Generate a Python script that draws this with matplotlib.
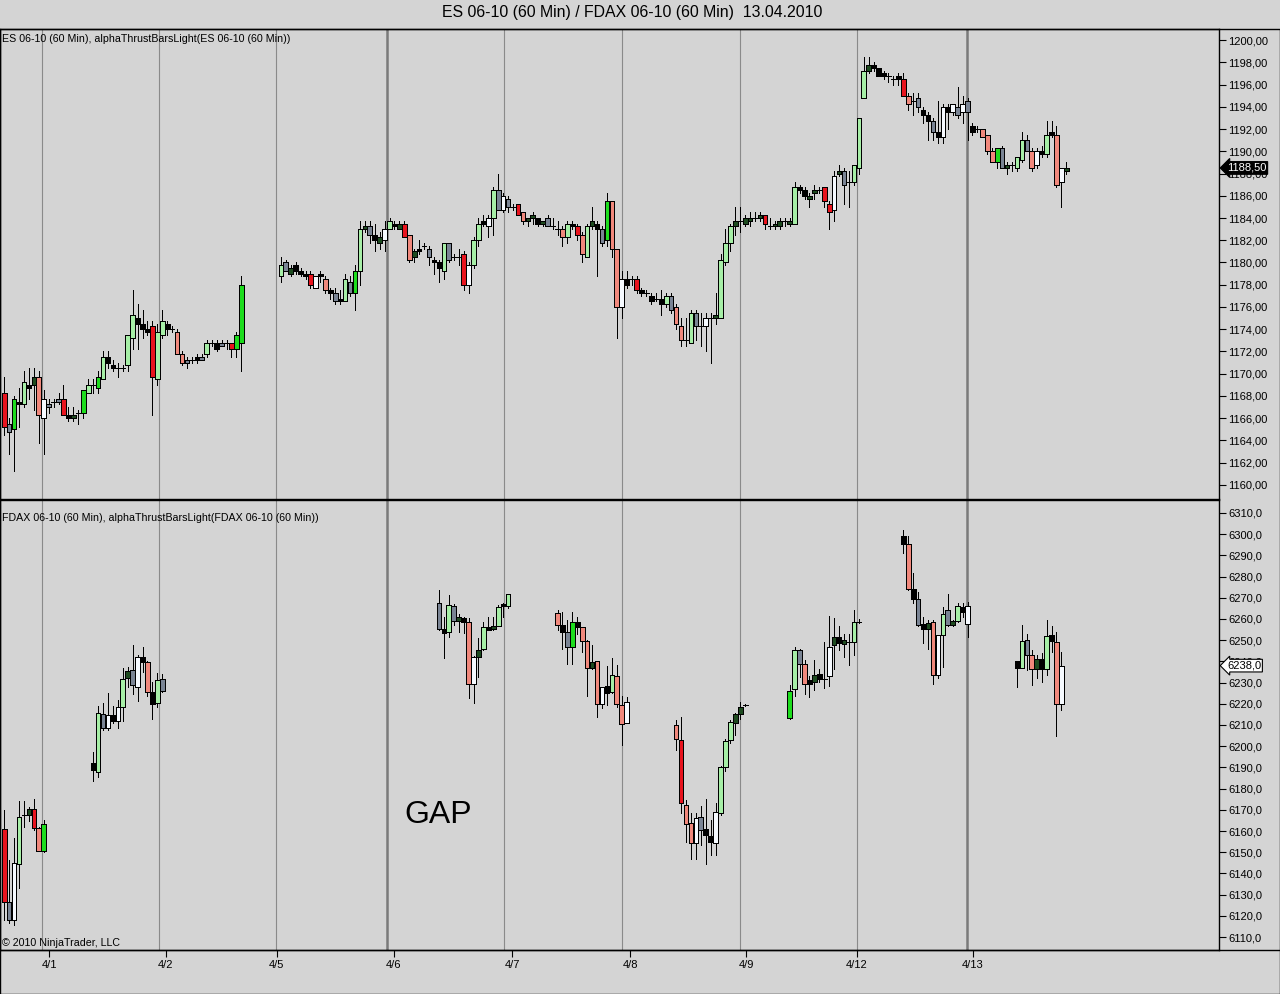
import matplotlib
matplotlib.use("Agg")
import matplotlib.pyplot as plt
import matplotlib.transforms as mtransforms
from matplotlib.patches import Rectangle
import numpy as np

plt.rcParams['font.family'] = ['Liberation Sans', 'DejaVu Sans']

# ---------------- data ----------------
# hourly bars on one shared time axis (bar slot numbers)
es_x = list(range(0, 49)) + list(range(56, 216))

es_open = [
    # 3/31 - 4/2
    1168.25, 1164.75, 1165.0, 1167.5, 1167.25, 1169.0, 1169.0, 1169.75, 1166.0, 1167.0,
    1167.5, 1167.5, 1167.75, 1166.25, 1166.0, 1166.5, 1166.5, 1168.25, 1169.0, 1168.75,
    1169.5, 1171.5, 1170.75, 1170.5, 1170.5, 1170.75, 1173.25, 1175.0, 1174.5, 1174.0,
    1174.25, 1169.5, 1173.5, 1174.5, 1174.0, 1173.75, 1171.75, 1171.0, 1171.25, 1171.5,
    1171.25, 1171.75, 1172.75, 1172.75, 1172.5, 1172.75, 1172.75, 1172.25, 1172.75,
    # 4/5 - 4/6
    1178.75, 1179.25, 1179.0, 1179.75, 1179.25, 1179.0, 1179.0, 1177.75, 1179.0, 1178.5,
    1177.5, 1177.25, 1176.75, 1176.5, 1178.25, 1177.25, 1179.25, 1183.0, 1183.25, 1182.5,
    1181.75, 1182.0, 1183.0, 1183.5, 1183.0, 1183.5, 1182.5, 1180.5, 1181.25, 1181.5,
    1181.25, 1180.25, 1180.0, 1179.25, 1181.75, 1180.5, 1180.5, 1180.75,
    # 4/6 - 4/8
    1178.0, 1179.75, 1182.0, 1183.75, 1183.25, 1184.0, 1186.5, 1184.75, 1185.75, 1185.0,
    1185.25, 1184.5, 1183.75, 1184.0, 1184.0, 1183.5, 1184.0, 1183.25, 1183.0, 1183.0,
    1182.25, 1183.5, 1183.25, 1182.5, 1180.5, 1183.25, 1183.5, 1183.0, 1182.0, 1185.5,
    1181.25, 1176.0, 1178.5, 1178.5, 1178.5, 1177.5, 1177.25, 1177.0, 1176.75, 1176.75,
    1176.25,
    # 4/8 - 4/12
    1177.0, 1176.0, 1174.25, 1173.0, 1172.75, 1175.5, 1174.25, 1174.25, 1175.0, 1175.0,
    1175.0, 1180.0, 1181.75, 1183.25, 1183.75, 1183.5, 1183.75, 1184.0, 1184.0, 1184.25,
    1183.25, 1183.25, 1183.25, 1183.75, 1183.5, 1183.5, 1186.75, 1186.5, 1185.75, 1186.25,
    1186.5, 1186.75, 1185.25, 1184.75, 1188.0, 1188.25, 1187.25, 1187.25, 1188.5, 1194.75,
    # 4/12 - 4/13
    1197.25, 1197.75, 1197.5, 1197.0, 1196.75, 1196.5, 1196.75, 1196.5, 1195.0, 1194.5,
    1194.75, 1193.75, 1193.25, 1192.75, 1191.75, 1191.25, 1194.0, 1193.5, 1194.0, 1193.5,
    1194.5, 1192.25, 1192.0, 1192.0, 1191.5, 1190.0, 1189.0, 1190.25, 1188.5, 1188.75,
    1188.5, 1189.25, 1191.0, 1190.0, 1188.75, 1190.0, 1189.75, 1191.75, 1191.5, 1187.25,
    1188.25,
]
es_high = [
    1169.75, 1166.0, 1168.0, 1168.75, 1170.25, 1170.5, 1170.5, 1170.25, 1168.5, 1167.75,
    1167.75, 1168.25, 1169.0, 1167.0, 1167.0, 1166.75, 1168.5, 1169.5, 1169.5, 1170.25,
    1172.0, 1172.0, 1171.25, 1171.0, 1170.75, 1173.5, 1177.5, 1176.25, 1175.75, 1174.75,
    1174.75, 1174.5, 1175.75, 1174.75, 1174.25, 1174.0, 1172.0, 1171.5, 1171.5, 1171.75,
    1171.75, 1173.0, 1173.0, 1173.0, 1173.0, 1173.0, 1172.75, 1173.75, 1178.75,
    1180.5, 1180.25, 1179.75, 1180.0, 1179.5, 1179.25, 1179.25, 1178.75, 1179.25, 1178.75,
    1177.75, 1177.75, 1177.5, 1179.0, 1178.75, 1179.75, 1183.75, 1183.75, 1183.75, 1183.5,
    1182.75, 1183.75, 1184.0, 1183.75, 1183.75, 1183.75, 1182.5, 1181.25, 1182.0, 1181.75,
    1181.5, 1180.5, 1180.25, 1181.75, 1181.75, 1180.75, 1181.25, 1181.0,
    1180.0, 1182.25, 1184.0, 1184.25, 1184.25, 1186.75, 1188.0, 1186.25, 1186.0, 1185.25,
    1185.25, 1184.5, 1184.0, 1184.5, 1184.0, 1183.75, 1184.25, 1184.0, 1183.75, 1183.25,
    1183.75, 1183.75, 1183.5, 1182.75, 1183.5, 1185.0, 1183.75, 1183.25, 1186.25, 1185.5,
    1181.25, 1179.25, 1179.25, 1178.75, 1178.75, 1177.75, 1177.5, 1177.25, 1177.25, 1177.5,
    1177.25,
    1177.25, 1176.25, 1175.0, 1175.0, 1175.75, 1175.75, 1175.5, 1175.5, 1175.5, 1177.25,
    1180.75, 1183.0, 1183.5, 1185.0, 1185.0, 1184.25, 1184.5, 1184.5, 1184.5, 1184.25,
    1184.0, 1183.75, 1184.0, 1184.0, 1184.0, 1187.25, 1187.0, 1186.75, 1186.25, 1187.0,
    1186.75, 1186.75, 1185.5, 1188.25, 1188.75, 1188.5, 1188.25, 1188.75, 1193.0, 1198.5,
    1198.5, 1198.0, 1197.5, 1197.25, 1197.0, 1196.75, 1197.0, 1197.0, 1195.25, 1195.25,
    1195.25, 1194.0, 1193.5, 1193.0, 1194.5, 1194.25, 1194.25, 1194.25, 1195.75, 1195.0,
    1194.75, 1192.5, 1192.25, 1192.0, 1191.5, 1190.25, 1190.25, 1190.5, 1189.0, 1189.0,
    1189.5, 1191.75, 1191.5, 1190.25, 1190.25, 1190.5, 1192.75, 1192.75, 1192.25, 1188.5,
    1189.0,
]
es_low = [
    1164.5, 1162.75, 1161.25, 1165.25, 1167.0, 1167.75, 1166.75, 1163.75, 1162.75, 1166.5,
    1167.0, 1167.25, 1166.25, 1165.75, 1165.75, 1165.5, 1166.0, 1168.25, 1168.25, 1168.25,
    1169.5, 1170.5, 1170.25, 1169.75, 1170.25, 1170.25, 1172.25, 1172.25, 1173.25, 1173.5,
    1166.25, 1169.0, 1173.25, 1173.5, 1173.75, 1171.75, 1170.75, 1170.5, 1171.0, 1171.0,
    1171.25, 1171.5, 1172.5, 1172.0, 1172.5, 1172.25, 1171.5, 1171.5, 1170.25,
    1178.25, 1179.25, 1178.75, 1179.0, 1178.75, 1178.5, 1177.75, 1177.75, 1178.25, 1177.25,
    1176.75, 1176.25, 1176.25, 1176.5, 1177.0, 1175.75, 1178.0, 1182.75, 1181.75, 1181.0,
    1181.25, 1181.0, 1183.0, 1183.0, 1183.0, 1182.25, 1180.0, 1180.0, 1180.75, 1181.25,
    1179.75, 1179.0, 1178.25, 1178.5, 1180.0, 1180.25, 1179.75, 1177.5,
    1177.25, 1179.5, 1181.5, 1183.25, 1182.25, 1182.5, 1184.75, 1184.5, 1184.5, 1184.75,
    1184.25, 1183.5, 1183.25, 1183.5, 1183.25, 1183.25, 1183.25, 1183.0, 1182.5, 1181.5,
    1181.75, 1183.0, 1182.0, 1180.0, 1180.5, 1183.0, 1178.75, 1181.5, 1181.5, 1180.5,
    1173.25, 1175.0, 1177.75, 1178.0, 1177.25, 1177.0, 1177.0, 1176.25, 1176.5, 1175.25,
    1176.0,
    1175.5, 1174.0, 1172.5, 1172.5, 1172.75, 1173.0, 1172.5, 1172.0, 1171.0, 1174.5,
    1175.0, 1179.75, 1181.0, 1182.5, 1182.75, 1183.25, 1183.25, 1183.75, 1183.75, 1183.0,
    1183.0, 1183.0, 1183.0, 1183.25, 1183.25, 1183.5, 1186.25, 1185.75, 1185.0, 1185.75,
    1186.25, 1185.0, 1183.0, 1183.75, 1187.75, 1185.25, 1185.0, 1187.0, 1188.0, 1194.75,
    1197.0, 1197.25, 1196.75, 1196.5, 1196.25, 1196.0, 1196.0, 1195.0, 1193.75, 1193.25,
    1193.5, 1192.5, 1191.0, 1191.0, 1190.75, 1190.75, 1192.0, 1193.25, 1193.0, 1192.5,
    1191.0, 1191.5, 1191.75, 1191.25, 1189.75, 1189.0, 1188.5, 1188.5, 1188.0, 1188.25,
    1188.25, 1189.0, 1190.0, 1188.25, 1188.5, 1189.5, 1189.5, 1191.25, 1186.75, 1185.0,
    1188.0,
]
es_close = [
    1165.25, 1165.5, 1167.75, 1167.25, 1169.25, 1168.75, 1169.75, 1166.25, 1167.75, 1167.25,
    1167.5, 1167.75, 1166.25, 1166.0, 1166.25, 1166.5, 1168.5, 1169.0, 1169.0, 1169.75,
    1171.5, 1171.0, 1170.5, 1170.5, 1170.5, 1173.5, 1175.25, 1174.5, 1174.0, 1173.75,
    1169.75, 1173.75, 1174.75, 1174.0, 1174.0, 1171.75, 1171.0, 1171.25, 1171.25, 1171.25,
    1171.5, 1172.75, 1172.75, 1172.25, 1172.75, 1172.75, 1172.25, 1173.5, 1178.0,
    1179.75, 1180.0, 1179.5, 1179.25, 1179.0, 1178.75, 1178.0, 1178.75, 1178.75, 1177.5,
    1177.25, 1176.5, 1176.5, 1178.5, 1177.25, 1179.25, 1183.0, 1183.25, 1182.5, 1182.0,
    1182.25, 1183.0, 1183.75, 1183.25, 1183.5, 1182.25, 1180.25, 1181.0, 1181.0, 1181.5,
    1180.5, 1180.0, 1179.5, 1181.75, 1180.25, 1180.5, 1180.5, 1178.0,
    1179.75, 1182.0, 1183.5, 1183.5, 1184.0, 1186.5, 1184.75, 1186.0, 1185.0, 1185.0,
    1184.25, 1183.75, 1184.0, 1184.25, 1183.5, 1183.75, 1183.25, 1183.25, 1183.0, 1182.25,
    1183.5, 1183.25, 1182.5, 1180.75, 1183.25, 1183.75, 1183.0, 1181.75, 1185.5, 1181.25,
    1176.0, 1178.5, 1178.0, 1178.5, 1177.5, 1177.25, 1177.25, 1176.5, 1176.75, 1176.25,
    1177.0,
    1175.75, 1174.5, 1173.0, 1173.0, 1175.5, 1174.25, 1174.25, 1175.0, 1175.0, 1175.25,
    1180.25, 1181.75, 1183.25, 1183.75, 1183.75, 1184.0, 1184.0, 1184.0, 1184.25, 1183.5,
    1183.25, 1183.5, 1183.75, 1183.75, 1183.75, 1186.75, 1186.5, 1186.0, 1186.0, 1186.5,
    1186.5, 1185.5, 1184.5, 1187.75, 1188.25, 1187.0, 1187.25, 1188.75, 1193.0, 1197.25,
    1197.75, 1197.5, 1196.75, 1196.75, 1196.75, 1196.5, 1196.5, 1195.0, 1194.25, 1194.5,
    1194.0, 1193.25, 1192.75, 1191.75, 1191.25, 1194.0, 1193.5, 1194.25, 1193.25, 1194.25,
    1193.5, 1191.75, 1192.0, 1191.25, 1190.0, 1189.0, 1190.25, 1188.5, 1188.75, 1188.75,
    1189.5, 1191.0, 1190.0, 1188.5, 1190.0, 1189.75, 1191.5, 1191.5, 1187.0, 1188.5,
    1188.5,
]
# alphaThrust colour class of each bar
es_color = ("rygklkdswy" "kyrkdkglkg" "lkkkkllkkk" "rllkkssykk" "ylkkykrgg"
            "lydkkkrwks" "kyklygldyk" "dwlkdrsdkk" "ykklykkr"
            "wllkwlywyk" "rsddkdykks" "lkrsldkygs" "swkkrkkkkk" "l"
            "yssklykwkd" "llldkddkdr" "kddkdlkkdd" "krrwdyklll"
            "dkkkkkkrsk" "ykkykwkwyw" "ykksssgydk" "llyswklkswd")

fdax_x = (list(range(0, 9)) + list(range(18, 33)) + list(range(88, 103))
          + list(range(112, 127)) + list(range(136, 151)) + list(range(159, 174))
          + list(range(182, 196)) + list(range(205, 215)))
fdax_open = [
    6161.0, 6126.5, 6118.0, 6144.5, 6167.5, 6167.5, 6170.5, 6161.5, 6150.5,
    6192.0, 6188.0, 6215.0, 6208.5, 6214.5, 6212.0, 6218.5, 6232.0, 6236.0, 6228.0,
    6242.0, 6239.5, 6225.5, 6220.5, 6231.5,
    6267.5, 6255.5, 6254.0, 6266.0, 6259.0, 6260.5, 6258.5, 6229.5, 6242.0, 6246.0,
    6256.0, 6255.5, 6256.5, 6267.0, 6266.0,
    6263.0, 6257.0, 6254.0, 6247.0, 6258.5, 6256.0, 6249.5, 6237.0, 6240.0, 6220.0,
    6228.5, 6225.5, 6233.0, 6219.5, 6211.0,
    6210.0, 6203.0, 6172.5, 6164.0, 6154.5, 6166.5, 6161.0, 6157.5, 6154.5, 6168.5,
    6190.0, 6203.0, 6211.0, 6215.0, 6219.5,
    6213.5, 6227.0, 6245.5, 6239.0, 6231.0, 6230.5, 6234.0, 6231.5, 6233.0, 6247.5,
    6251.5, 6248.0, 6249.0, 6249.0, 6258.5,
    6299.0, 6295.5, 6274.0, 6269.5, 6257.5, 6255.5, 6258.5, 6233.5, 6252.5, 6264.0,
    6257.0, 6259.0, 6265.5, 6257.5,
    6240.0, 6237.0, 6250.0, 6243.0, 6236.5, 6241.0, 6236.5, 6252.5, 6249.0, 6220.0,
]
fdax_high = [
    6170.0, 6146.5, 6156.5, 6174.0, 6174.0, 6171.5, 6175.0, 6162.0, 6165.0,
    6197.5, 6219.0, 6220.5, 6225.0, 6219.0, 6222.0, 6237.0, 6237.5, 6247.5, 6243.0,
    6247.0, 6240.0, 6230.5, 6234.5, 6234.0,
    6273.5, 6261.0, 6271.5, 6267.0, 6262.5, 6261.0, 6260.5, 6242.5, 6251.0, 6258.5,
    6261.0, 6261.0, 6266.5, 6267.5, 6272.0,
    6264.0, 6263.5, 6259.5, 6263.5, 6261.0, 6256.0, 6250.0, 6247.5, 6240.0, 6228.0,
    6238.0, 6241.5, 6238.5, 6223.5, 6223.0,
    6212.5, 6214.0, 6174.5, 6168.5, 6168.5, 6172.0, 6175.0, 6165.0, 6173.0, 6190.5,
    6203.5, 6212.5, 6215.5, 6221.0, 6220.0,
    6229.0, 6247.0, 6246.0, 6240.5, 6233.0, 6240.5, 6236.5, 6249.0, 6261.5, 6260.5,
    6256.5, 6253.0, 6253.0, 6264.0, 6260.0,
    6302.0, 6299.0, 6281.5, 6272.5, 6261.0, 6259.5, 6259.5, 6252.5, 6265.5, 6272.0,
    6259.5, 6267.5, 6267.5, 6268.0,
    6240.0, 6257.0, 6253.0, 6245.5, 6243.0, 6244.0, 6259.5, 6256.5, 6254.0, 6244.5,
]
fdax_low = [
    6118.0, 6116.5, 6115.5, 6133.0, 6162.0, 6164.5, 6160.5, 6150.5, 6150.0,
    6183.5, 6185.5, 6207.5, 6207.5, 6211.0, 6208.5, 6212.0, 6228.0, 6224.5, 6221.5,
    6235.0, 6223.5, 6213.0, 6218.5, 6225.5,
    6255.0, 6241.5, 6251.5, 6257.0, 6254.0, 6253.5, 6222.5, 6220.5, 6232.5, 6245.5,
    6255.0, 6255.0, 6256.5, 6261.0, 6265.0,
    6255.0, 6246.0, 6239.0, 6239.0, 6253.0, 6244.5, 6223.5, 6236.5, 6214.0, 6218.0,
    6219.5, 6225.0, 6218.5, 6200.5, 6211.0,
    6198.0, 6168.5, 6155.0, 6147.0, 6147.0, 6153.5, 6144.5, 6148.5, 6148.5, 6167.5,
    6188.5, 6201.5, 6205.5, 6213.0, 6219.0,
    6213.0, 6223.5, 6232.5, 6224.5, 6223.0, 6226.5, 6230.5, 6227.5, 6228.5, 6236.5,
    6245.5, 6242.0, 6238.5, 6243.0, 6258.0,
    6291.0, 6273.5, 6267.5, 6256.5, 6248.5, 6246.0, 6229.5, 6232.0, 6237.5, 6256.5,
    6256.5, 6258.5, 6261.0, 6251.5,
    6228.0, 6237.0, 6236.0, 6229.0, 6232.0, 6230.5, 6233.5, 6244.5, 6205.0, 6217.0,
]
fdax_close = [
    6126.5, 6118.0, 6145.0, 6166.5, 6167.5, 6170.5, 6161.5, 6150.5, 6163.5,
    6189.0, 6215.5, 6208.5, 6214.5, 6212.0, 6218.5, 6231.5, 6235.5, 6229.0, 6242.0,
    6239.5, 6225.5, 6220.0, 6231.0, 6226.0,
    6255.5, 6253.5, 6266.5, 6259.0, 6261.0, 6258.5, 6229.5, 6242.0, 6245.5, 6256.0,
    6255.0, 6256.5, 6265.5, 6266.0, 6272.0,
    6257.0, 6254.0, 6247.0, 6258.5, 6256.0, 6249.5, 6237.0, 6239.5, 6220.0, 6228.0,
    6225.0, 6233.5, 6220.0, 6210.5, 6221.0,
    6203.5, 6173.0, 6163.5, 6154.5, 6166.0, 6160.5, 6158.0, 6155.0, 6169.0, 6190.0,
    6202.5, 6211.5, 6215.0, 6218.5, 6219.5,
    6226.0, 6245.5, 6239.0, 6229.5, 6229.5, 6233.5, 6231.5, 6231.5, 6247.0, 6251.5,
    6248.5, 6250.0, 6249.0, 6258.5, 6258.5,
    6295.5, 6274.0, 6269.5, 6257.0, 6255.5, 6258.0, 6233.5, 6252.5, 6262.5, 6257.0,
    6259.0, 6266.0, 6263.5, 6266.0,
    6237.0, 6249.5, 6243.0, 6236.5, 6241.0, 6236.5, 6252.0, 6249.5, 6220.0, 6238.0,
]
fdax_color = ("rywlkdrsg" "klywkwldywkskly" "yklydkswdlkdlkl" "skygkssdswklssw"
              "srsswykkwlllddk" "glyskdkkwdkdklk" "kskykdswlydlkw" "klysdklksw")

session_breaks = [7.65, 31.3, 55.0, 77.5, 101.2, 125.1, 148.9, 172.6, 194.9]
heavy_breaks = [77.5, 194.9]
date_ticks = [9.1, 32.7, 55.2, 78.9, 102.8, 126.7, 150.2, 172.6, 196.1]
date_labels = ['4/1', '4/2', '4/5', '4/6', '4/7', '4/8', '4/9', '4/12', '4/13']

es_ticks = np.arange(1160, 1201, 2)
fdax_ticks = np.arange(6110, 6311, 10)
es_last = 1188.50
fdax_last = 6238.0

assert len(es_x) == len(es_open) == len(es_high) == len(es_low) == len(es_close) == len(es_color)
assert len(fdax_x) == len(fdax_open) == len(fdax_high) == len(fdax_low) == len(fdax_close) == len(fdax_color)

# ---------------- style ----------------
bg = '#d4d4d4'
palette = {'r': '#e8141e', 's': '#f0887c', 'g': '#1edc1e', 'l': '#a6eea6',
           'd': '#1d4a1f', 'k': '#000000', 'y': '#7a8494', 'w': '#f6faff'}
W, H = 1280, 994


def fx(px):
    return px / W


def fy(py):
    return 1 - py / H


def candles(ax, xs, o, h, l, c, col):
    xs = np.asarray(xs, float)
    o, h, l, c = (np.asarray(v, float) for v in (o, h, l, c))
    lo = np.minimum(o, c)
    hi = np.maximum(o, c)
    ax.vlines(xs, l, h, colors='black', linewidth=0.6, zorder=3, antialiased=False)
    flat = (hi - lo) == 0
    face = np.array([palette[k] for k in col])
    ax.bar(xs[~flat], (hi - lo)[~flat], bottom=lo[~flat], width=0.94,
           color=face[~flat], edgecolor='black', linewidth=0.5, zorder=4, antialiased=False)
    ax.hlines(o[flat], xs[flat] - 0.47, xs[flat] + 0.47, colors='black',
              linewidth=0.6, zorder=4, antialiased=False)


fig = plt.figure(figsize=(W / 100, H / 100), dpi=100)
fig.patch.set_facecolor(bg)

ax1 = fig.add_axes([0, fy(499), fx(1219), (499 - 29) / H])
ax2 = fig.add_axes([0, fy(950), fx(1219), (950 - 500) / H])

xlim = (-0.85, 245.9)
for ax in (ax1, ax2):
    ax.set_facecolor(bg)
    ax.set_xlim(*xlim)
    for s in ax.spines.values():
        s.set_color('black')
        s.set_linewidth(1.0)
    for xb in session_breaks:
        heavy = xb in heavy_breaks
        ax.axvline(xb, color='#7a7a7a' if heavy else '#8a8a8a',
                   lw=1.8 if heavy else 0.8, zorder=1)
    ax.yaxis.tick_right()
    ax.tick_params(axis='y', direction='out', length=5, width=0.8,
                   labelsize=8, pad=1.5, colors='black')

candles(ax1, es_x, es_open, es_high, es_low, es_close, es_color)
candles(ax2, fdax_x, fdax_open, fdax_high, fdax_low, fdax_close, fdax_color)

ax1.set_ylim(1158.74, 1200.99)
ax1.set_yticks(es_ticks)
ax1.set_yticklabels([f"{v:.2f}".replace('.', ',') for v in es_ticks])
ax1.set_xticks([])

ax2.set_ylim(6103.9, 6316.1)
ax2.set_yticks(fdax_ticks)
ax2.set_yticklabels([f"{v:.1f}".replace('.', ',') for v in fdax_ticks])
ax2.set_xticks(date_ticks)
ax2.set_xticklabels(date_labels)
ax2.tick_params(axis='x', direction='out', length=5, width=0.8, labelsize=8, pad=2)

# last price markers on the price scale
t1 = mtransforms.blended_transform_factory(ax1.transAxes, ax1.transData)
ax1.text(1.0065, es_last, f"{es_last:.2f}".replace('.', ','), transform=t1,
         ha='left', va='center', color='white', fontsize=8, zorder=10, clip_on=False,
         bbox=dict(boxstyle='larrow,pad=0.12', fc='black', ec='black', lw=0.8))
t2 = mtransforms.blended_transform_factory(ax2.transAxes, ax2.transData)
ax2.text(1.0065, fdax_last, f"{fdax_last:.1f}".replace('.', ','), transform=t2,
         ha='left', va='center', color='black', fontsize=8, zorder=10, clip_on=False,
         bbox=dict(boxstyle='larrow,pad=0.12', fc='white', ec='black', lw=0.8))

# texts
fig.text(fx(632), fy(13), "ES 06-10 (60 Min) / FDAX 06-10 (60 Min)  13.04.2010",
         ha='center', va='center', fontsize=11.4)
fig.text(fx(2), fy(39), "ES 06-10 (60 Min), alphaThrustBarsLight(ES 06-10 (60 Min))",
         ha='left', va='center', fontsize=7.7)
fig.text(fx(2), fy(518), "FDAX 06-10 (60 Min), alphaThrustBarsLight(FDAX 06-10 (60 Min))",
         ha='left', va='center', fontsize=7.7)
fig.text(fx(2), fy(943), "\u00a9 2010 NinjaTrader, LLC", ha='left', va='center', fontsize=7.7)
ax2.text(81.1, 6163.8, "GAP", fontsize=23, ha='left', va='baseline', zorder=5)

# outer frame of the chart window
fig.add_artist(Rectangle((0, 0), 1 - 0.5 / W, 1 - 29 / H, transform=fig.transFigure,
                         fill=False, ec='black', lw=1.0))
fig.add_artist(plt.Line2D([0, fx(1280)], [fy(950), fy(950)], transform=fig.transFigure,
                          color='black', lw=1.0))

fig.savefig("out.png", dpi=100, facecolor=bg)
